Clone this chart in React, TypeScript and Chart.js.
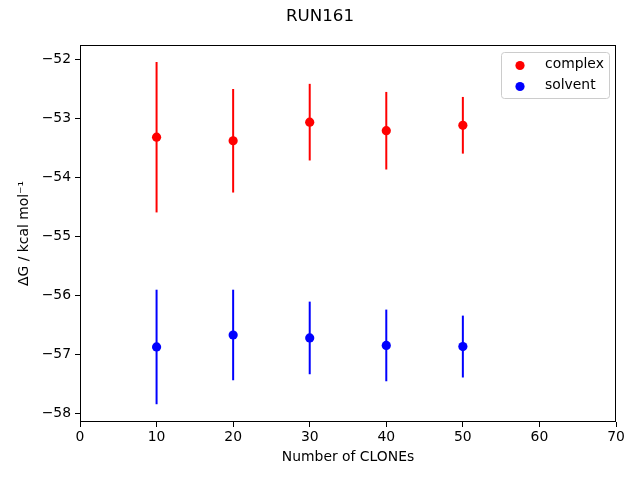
import React, { useEffect, useRef } from "react";
import { Chart, registerables } from "chart.js";

Chart.register(...registerables);

const chartTitle = "RUN161";
const xLabel = "Number of CLONEs";
const yLabel = "ΔG / kcal mol⁻¹";
const cloneCounts = [10, 20, 30, 40, 50];
const complexMeans = [-53.32, -53.38, -53.065, -53.21, -53.118];
const complexErrors = [1.274, 0.877, 0.649, 0.657, 0.48];
const solventMeans = [-56.873, -56.67, -56.72, -56.847, -56.866];
const solventErrors = [0.97, 0.767, 0.615, 0.607, 0.524];
const xTicks = [0, 10, 20, 30, 40, 50, 60, 70];
const yTicks = [-58, -57, -56, -55, -54, -53, -52];
const seriesNames = ["complex", "solvent"];
const seriesColors = ["#ff0000", "#0000ff"];

const FONT = "'DejaVu Sans', sans-serif";

const fmt = (v: number) => (v < 0 ? "\u2212" + Math.abs(v) : String(v));

const errorBarPlugin = {
  id: "errorBars",
  beforeDatasetsDraw(chart: any) {
    const { ctx, chartArea, scales } = chart;
    ctx.save();
    ctx.beginPath();
    ctx.rect(chartArea.left, chartArea.top, chartArea.right - chartArea.left, chartArea.bottom - chartArea.top);
    ctx.clip();
    chart.data.datasets.forEach((ds: any) => {
      ctx.strokeStyle = ds.borderColor;
      ctx.lineWidth = 2;
      ds.data.forEach((p: any, i: number) => {
        const e = ds.errors[i];
        const x = scales.x.getPixelForValue(p.x);
        const y1 = scales.y.getPixelForValue(p.y + e);
        const y2 = scales.y.getPixelForValue(p.y - e);
        ctx.beginPath();
        ctx.moveTo(x, y1);
        ctx.lineTo(x, y2);
        ctx.stroke();
      });
    });
    ctx.restore();
  },
  afterDraw(chart: any) {
    const { ctx, chartArea } = chart;
    ctx.save();
    // frame
    ctx.strokeStyle = "#000";
    ctx.lineWidth = 1;
    ctx.strokeRect(
      Math.round(chartArea.left) + 0.5,
      Math.round(chartArea.top) + 0.5,
      Math.round(chartArea.right - chartArea.left) - 1,
      Math.round(chartArea.bottom - chartArea.top) - 1
    );
    // title
    ctx.fillStyle = "#000";
    ctx.font = `16.7px ${FONT}`;
    ctx.textAlign = "center";
    ctx.textBaseline = "middle";
    ctx.fillText(chartTitle, 320, 17);
    // legend
    const bx = 501, by = 52, bw = 108, bh = 46;
    ctx.beginPath();
    (ctx as any).roundRect(bx + 0.5, by + 0.5, bw, bh, 3);
    ctx.fillStyle = "rgba(255,255,255,0.8)";
    ctx.fill();
    ctx.strokeStyle = "#cccccc";
    ctx.lineWidth = 1;
    ctx.stroke();
    ctx.font = `13.9px ${FONT}`;
    ctx.textAlign = "left";
    chart.data.datasets.forEach((ds: any, i: number) => {
      const cy = 64.5 + i * 21;
      ctx.beginPath();
      ctx.arc(520, cy + 1, 4.6, 0, Math.PI * 2);
      ctx.fillStyle = ds.backgroundColor;
      ctx.fill();
      ctx.fillStyle = "#000";
      ctx.fillText(ds.label, 545, cy);
    });
    ctx.restore();
  },
};

export default function App() {
  const ref = useRef<HTMLCanvasElement>(null);
  useEffect(() => {
    if (!ref.current) return;
    const mk = (means: number[]) => means.map((m, i) => ({ x: cloneCounts[i], y: m }));
    const chart = new Chart(ref.current, {
      type: "scatter",
      data: {
        datasets: [
          {
            label: seriesNames[0],
            data: mk(complexMeans),
            errors: complexErrors,
            backgroundColor: seriesColors[0],
            borderColor: seriesColors[0],
            pointRadius: 4.6,
            borderWidth: 0,
          } as any,
          {
            label: seriesNames[1],
            data: mk(solventMeans),
            errors: solventErrors,
            backgroundColor: seriesColors[1],
            borderColor: seriesColors[1],
            pointRadius: 4.6,
            borderWidth: 0,
          } as any,
        ],
      },
      options: {
        responsive: false,
        animation: false,
        devicePixelRatio: 1,
        layout: { padding: { left: 0, right: 24, top: 45, bottom: 0 } },
        plugins: { legend: { display: false }, tooltip: { enabled: false }, title: { display: false } },
        scales: {
          x: {
            type: "linear",
            min: 0,
            max: 70,
            afterBuildTicks: (s: any) => { s.ticks = xTicks.map((v) => ({ value: v })); },
            afterFit: (s: any) => { s.height = 58; },
            grid: { drawOnChartArea: false, drawTicks: true, tickLength: 5, tickColor: "#000", tickWidth: 1 },
            border: { display: false },
            ticks: { color: "#000", font: { family: FONT, size: 13.9 }, padding: 2, callback: (v: any) => fmt(v), maxRotation: 0 },
            title: { display: true, text: xLabel, color: "#000", font: { family: FONT, size: 13.9 }, padding: { top: 0, bottom: 14 } },
          },
          y: {
            type: "linear",
            min: -58.144,
            max: -51.758,
            afterBuildTicks: (s: any) => { s.ticks = yTicks.map((v) => ({ value: v })); },
            afterFit: (s: any) => { s.width = 80; },
            grid: { drawOnChartArea: false, drawTicks: true, tickLength: 5, tickColor: "#000", tickWidth: 1 },
            border: { display: false },
            ticks: { color: "#000", font: { family: FONT, size: 13.9 }, padding: 4, callback: (v: any) => fmt(v) },
            title: { display: true, text: yLabel, color: "#000", font: { family: FONT, size: 13.9 }, padding: { top: 16, bottom: 0 } },
          },
        },
      } as any,
      plugins: [errorBarPlugin],
    });
    return () => chart.destroy();
  }, []);
  return (
    <div style={{ position: "fixed", left: 0, top: 0, width: 640, height: 480, background: "#fff" }}>
      <canvas ref={ref} width={640} height={480} style={{ display: "block" }} />
    </div>
  );
}
